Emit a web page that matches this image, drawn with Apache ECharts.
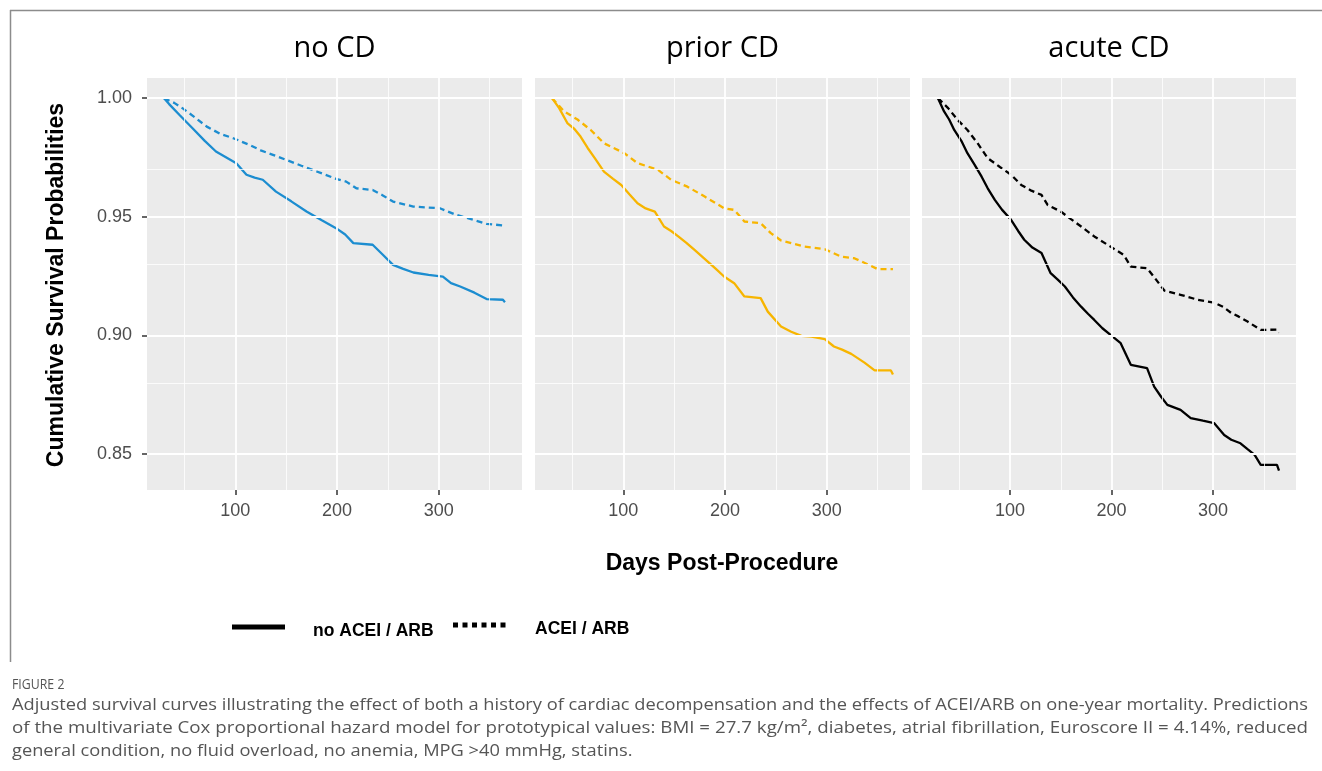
<!DOCTYPE html>
<html>
<head>
<meta charset="utf-8">
<script src="https://cdn.jsdelivr.net/npm/echarts@6/dist/echarts.min.js"></script>
<style>
html,body{margin:0;padding:0;background:#fff;}
#chart{width:1322px;height:771px;}
</style>
</head>
<body>
<div id="chart"></div>
<script>
// ---- data ----
const panelTitles = ['no CD', 'prior CD', 'acute CD'];
const xTicks = [100, 200, 300];
const xMinor = [50, 150, 250, 350];
const yTicks = [0.85, 0.90, 0.95, 1.00];
const yMinor = [0.875, 0.925, 0.975];
const legendNames = ['no ACEI / ARB', 'ACEI / ARB'];
const panelColors = ['#1C8DD0', '#F7B500', '#000000'];

// [day, survival]
const noCD_noACEI = [[30,1.000],[35,0.9975],[45,0.993],[58,0.9873],[70,0.982],[81,0.9775],[101,0.9726],[111,0.9677],[119,0.9665],[127,0.9656],[140,0.9606],[155,0.9565],[170,0.9522],[185,0.9485],[199,0.9452],[208,0.9425],[216,0.9389],[235,0.9382],[245,0.934],[255,0.9297],[265,0.928],[275,0.9265],[290,0.9255],[304,0.9248],[312,0.922],[321,0.9206],[335,0.918],[347,0.9153],[363,0.915],[365,0.914]];
const noCD_ACEI = [[30,1.000],[40,0.998],[48,0.9958],[60,0.992],[72,0.988],[85,0.985],[98,0.9831],[114,0.9803],[125,0.978],[137,0.9761],[150,0.974],[165,0.9715],[180,0.9691],[199,0.966],[209,0.9648],[219,0.962],[235,0.9613],[245,0.959],[255,0.9564],[275,0.9543],[301,0.9536],[317,0.9508],[334,0.9487],[347,0.947],[365,0.9463]];
const priorCD_noACEI = [[30,1.000],[37,0.9958],[45,0.9895],[52,0.987],[58,0.9838],[65,0.979],[72,0.9747],[81,0.969],[90,0.966],[98,0.9634],[106,0.9595],[114,0.9557],[122,0.9535],[131,0.9522],[140,0.9459],[147,0.944],[154,0.9417],[162,0.939],[170,0.936],[183,0.9311],[191,0.928],[199,0.9248],[209,0.922],[219,0.9164],[235,0.9157],[242,0.91],[255,0.9037],[265,0.9015],[275,0.8998],[285,0.8995],[298,0.8984],[307,0.8953],[315,0.894],[324,0.8922],[337,0.8885],[347,0.8852],[363,0.8852],[365,0.8835]];
const priorCD_ACEI = [[30,1.000],[42,0.9944],[55,0.991],[68,0.9866],[81,0.981],[101,0.9768],[114,0.9726],[134,0.9698],[147,0.9656],[163,0.9627],[180,0.9585],[199,0.9536],[209,0.9529],[219,0.948],[235,0.9473],[245,0.9431],[255,0.94],[278,0.9374],[298,0.9363],[314,0.9332],[327,0.9325],[340,0.93],[350,0.9279],[365,0.9279]];
const acuteCD_noACEI = [[29,1.000],[35,0.9944],[40,0.991],[45,0.9866],[52,0.982],[58,0.9768],[65,0.972],[72,0.9669],[78,0.962],[85,0.9571],[92,0.953],[101,0.9487],[108,0.944],[114,0.9403],[122,0.937],[131,0.9347],[140,0.9262],[147,0.9235],[154,0.9206],[162,0.916],[170,0.9121],[177,0.909],[183,0.9065],[191,0.903],[199,0.9002],[209,0.8967],[219,0.8876],[235,0.8862],[242,0.8784],[249,0.874],[255,0.8707],[268,0.8686],[278,0.8651],[290,0.864],[301,0.863],[311,0.858],[318,0.856],[327,0.8545],[334,0.852],[341,0.8496],[347,0.8454],[363,0.8454],[365,0.843]];
const acuteCD_ACEI = [[29,1.000],[39,0.9958],[48,0.991],[58,0.9866],[68,0.981],[78,0.9747],[90,0.971],[101,0.9677],[111,0.9634],[121,0.961],[131,0.9592],[137,0.955],[150,0.9522],[160,0.949],[170,0.9459],[183,0.9417],[199,0.9374],[212,0.9339],[219,0.929],[235,0.9283],[243,0.924],[252,0.9189],[268,0.9171],[285,0.915],[301,0.9138],[310,0.912],[318,0.9094],[325,0.908],[334,0.9058],[347,0.9023],[363,0.9024],[365,0.9012]];

const panelSolid = [noCD_noACEI, priorCD_noACEI, acuteCD_noACEI];
const panelDashed = [noCD_ACEI, priorCD_ACEI, acuteCD_ACEI];

const captionLabel = 'FIGURE 2';
const captionLines = [
  'Adjusted survival curves illustrating the effect of both a history of cardiac decompensation and the effects of ACEI/ARB on one-year mortality. Predictions',
  'of the multivariate Cox proportional hazard model for prototypical values: BMI = 27.7 kg/m\u00B2, diabetes, atrial fibrillation, Euroscore II = 4.14%, reduced',
  'general condition, no fluid overload, no anemia, MPG >40 mmHg, statins.'
];

// ---- layout ----
const gridLefts = [147, 535, 922];
const gridWidths = [375, 375, 374];
const gridTop = 78, gridHeight = 412;
const xMin = 13.25, xMax = 381.75, yMin = 0.8348, yMax = 1.0085;

const chart = echarts.init(document.getElementById('chart'), null, {renderer: 'canvas'});

const grids = [], xAxes = [], yAxes = [], series = [];
for (let i = 0; i < 3; i++) {
  grids.push({left: gridLefts[i], top: gridTop, width: gridWidths[i], height: gridHeight,
    show: true, backgroundColor: '#EBEBEB', borderWidth: 0, containLabel: false});
  xAxes.push({gridIndex: i, type: 'value', min: xMin, max: xMax,
    axisLine: {show: false},
    axisTick: {show: true, customValues: xTicks, length: 5, lineStyle: {color: '#333', width: 1.5}},
    axisLabel: {show: true, customValues: xTicks, color: '#4D4D4D', fontSize: 18, margin: 12, fontFamily: 'Liberation Sans, Arial, sans-serif'},
    splitLine: {show: false}});
  yAxes.push({gridIndex: i, type: 'value', min: yMin, max: yMax,
    axisLine: {show: false},
    axisTick: {show: i === 0, customValues: yTicks, length: 5, lineStyle: {color: '#333', width: 1.5}},
    axisLabel: {show: i === 0, customValues: yTicks, color: '#4D4D4D', fontSize: 18, margin: 15,
      fontFamily: 'Liberation Sans, Arial, sans-serif', formatter: v => v.toFixed(2)},
    splitLine: {show: false}});
  const ml = [];
  xMinor.forEach(v => ml.push({xAxis: v, lineStyle: {width: 0.8}}));
  yMinor.forEach(v => ml.push({yAxis: v, lineStyle: {width: 0.8}}));
  xTicks.forEach(v => ml.push({xAxis: v, lineStyle: {width: 1.8}}));
  yTicks.forEach(v => ml.push({yAxis: v, lineStyle: {width: 1.8}}));
  series.push({type: 'line', xAxisIndex: i, yAxisIndex: i, z: 1, silent: true,
    data: [panelSolid[i][0]], showSymbol: false, symbol: 'none', lineStyle: {width: 0},
    markLine: {silent: true, symbol: 'none', label: {show: false}, animation: false,
      lineStyle: {color: '#FFFFFF', type: 'solid'}, data: ml}});
  series.push({type: 'line', name: legendNames[0], xAxisIndex: i, yAxisIndex: i, z: 3,
    data: panelSolid[i], showSymbol: false, symbol: 'none', animation: false,
    lineStyle: {color: panelColors[i], width: 2.3, type: 'solid'}});
  series.push({type: 'line', name: legendNames[1], xAxisIndex: i, yAxisIndex: i, z: 3,
    data: panelDashed[i], showSymbol: false, symbol: 'none', animation: false,
    lineStyle: {color: panelColors[i], width: 2.3, type: [6, 4]}});
}

// measure caption widths to fit justified lines
const cv = document.createElement('canvas').getContext('2d');
const capFont = '17px "Open Sans", sans-serif';
cv.font = capFont;
const capTarget = 1296;
const w0 = cv.measureText(captionLines[0]).width;
const w1 = cv.measureText(captionLines[1]).width;
const s0 = capTarget / w0, s1 = capTarget / w1;

const graphics = [
  {type: 'line', shape: {x1: 10, y1: 10.5, x2: 1322, y2: 10.5}, style: {stroke: '#8C8C8C', lineWidth: 1.5}},
  {type: 'line', shape: {x1: 10.5, y1: 10, x2: 10.5, y2: 662}, style: {stroke: '#8C8C8C', lineWidth: 1.5}},
  // y title
  {type: 'text', x: 57, y: 285, rotation: Math.PI / 2,
    style: {text: 'Cumulative Survival Probabilities', font: 'bold 23px "Liberation Sans", Arial, sans-serif',
      fill: '#000', align: 'center', verticalAlign: 'middle'}},
  // x title
  {type: 'text', x: 722, y: 564,
    style: {text: 'Days Post-Procedure', font: 'bold 23px "Liberation Sans", Arial, sans-serif',
      fill: '#000', align: 'center', verticalAlign: 'middle'}},
  // legend
  {type: 'line', shape: {x1: 232, y1: 627, x2: 285, y2: 627}, style: {stroke: '#000', lineWidth: 5}},
  {type: 'text', x: 313, y: 631, style: {text: legendNames[0], font: 'bold 17.5px "Liberation Sans", Arial, sans-serif', fill: '#000', verticalAlign: 'middle'}},
  {type: 'line', shape: {x1: 453, y1: 625, x2: 506, y2: 625}, style: {stroke: '#000', lineWidth: 5, lineDash: [5, 4.5]}},
  {type: 'text', x: 535, y: 629, style: {text: legendNames[1], font: 'bold 17.5px "Liberation Sans", Arial, sans-serif', fill: '#000', verticalAlign: 'middle'}},
  // caption
  {type: 'text', x: 12, y: 685, scaleX: 0.88, style: {text: captionLabel, font: '14px "Open Sans", sans-serif', fill: '#555', verticalAlign: 'middle'}},
  {type: 'text', x: 12, y: 705, scaleX: s0, style: {text: captionLines[0], font: capFont, fill: '#555', verticalAlign: 'middle'}},
  {type: 'text', x: 12, y: 728, scaleX: s1, style: {text: captionLines[1], font: capFont, fill: '#555', verticalAlign: 'middle'}},
  {type: 'text', x: 12, y: 751, scaleX: s0, style: {text: captionLines[2], font: capFont, fill: '#555', verticalAlign: 'middle'}}
];
panelTitles.forEach((t, i) => {
  graphics.push({type: 'text', x: gridLefts[i] + gridWidths[i] / 2, y: 49,
    style: {text: t, font: '29px "Open Sans", sans-serif', fill: '#000', align: 'center', verticalAlign: 'middle'}});
});

chart.setOption({
  backgroundColor: '#FFFFFF',
  animation: false,
  grid: grids, xAxis: xAxes, yAxis: yAxes, series: series,
  graphic: graphics
});
</script>
</body>
</html>
